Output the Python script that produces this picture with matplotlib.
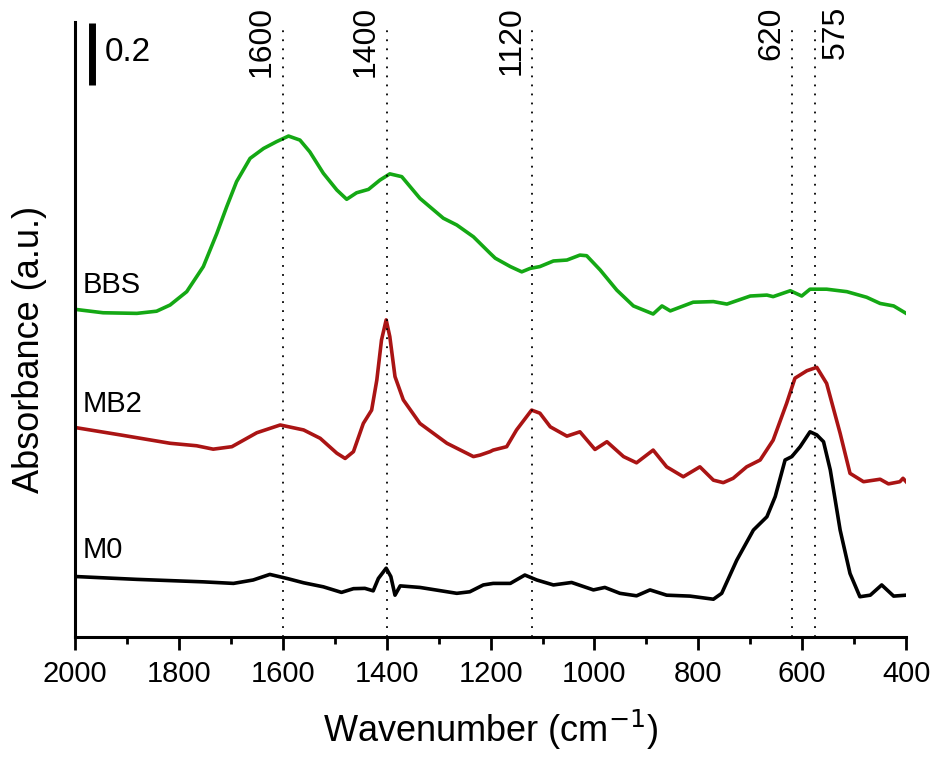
import matplotlib
matplotlib.use("Agg")
import matplotlib.pyplot as plt
from matplotlib.ticker import MultipleLocator

plt.rcParams['font.family'] = ['Liberation Sans', 'DejaVu Sans']

# BBS spectrum (green)
bbs_wn = [2000, 1946, 1881, 1843, 1817, 1785, 1753, 1727, 1708, 1689, 1663, 1637,
          1612, 1589, 1567, 1548, 1522, 1496, 1477, 1458, 1435, 1413, 1394, 1371,
          1336, 1291, 1265, 1233, 1201, 1191, 1162, 1140, 1124, 1105, 1079, 1053,
          1028, 1015, 989, 957, 925, 887, 870, 854, 810, 771, 745, 700, 668, 656,
          623, 601, 585, 553, 514, 476, 450, 424, 400]
bbs_abs = [1.057, 1.046, 1.044, 1.051, 1.071, 1.114, 1.195, 1.302, 1.388, 1.469,
           1.544, 1.576, 1.598, 1.616, 1.603, 1.565, 1.496, 1.442, 1.412, 1.433,
           1.444, 1.474, 1.494, 1.485, 1.415, 1.351, 1.329, 1.291, 1.238, 1.222,
           1.195, 1.178, 1.189, 1.195, 1.213, 1.216, 1.232, 1.230, 1.184, 1.119,
           1.068, 1.042, 1.068, 1.052, 1.080, 1.082, 1.074, 1.100, 1.103, 1.098,
           1.117, 1.100, 1.122, 1.122, 1.114, 1.096, 1.076, 1.068, 1.044]

# MB2 spectrum (red)
mb2_wn = [1997, 1913, 1817, 1766, 1734, 1698, 1650, 1605, 1560, 1528, 1496, 1480,
          1464, 1445, 1429, 1419, 1410, 1401, 1394, 1384, 1368, 1336, 1284, 1233,
          1220, 1201, 1195, 1169, 1150, 1121, 1105, 1085, 1053, 1028, 999, 976,
          944, 919, 887, 861, 829, 797, 771, 752, 733, 707, 681, 656, 630, 614,
          591, 572, 553, 527, 508, 482, 450, 434, 412, 406, 400]
mb2_abs = [0.675, 0.652, 0.625, 0.617, 0.606, 0.614, 0.659, 0.684, 0.668, 0.641,
           0.593, 0.576, 0.598, 0.689, 0.732, 0.829, 0.958, 1.023, 0.969, 0.840,
           0.765, 0.689, 0.625, 0.582, 0.587, 0.598, 0.603, 0.614, 0.668, 0.732,
           0.722, 0.678, 0.648, 0.662, 0.605, 0.630, 0.582, 0.562, 0.603, 0.549,
           0.517, 0.549, 0.506, 0.498, 0.512, 0.549, 0.571, 0.635, 0.754, 0.835,
           0.859, 0.870, 0.818, 0.657, 0.528, 0.501, 0.509, 0.494, 0.501, 0.512,
           0.501]

# M0 spectrum (black)
m0_wn = [1997, 1881, 1753, 1695, 1657, 1625, 1592, 1560, 1522, 1487, 1464, 1442,
         1426, 1416, 1401, 1392, 1384, 1374, 1336, 1265, 1240, 1214, 1195, 1162,
         1134, 1111, 1079, 1044, 1002, 980, 951, 919, 893, 861, 816, 771, 755,
         726, 694, 668, 652, 633, 620, 604, 585, 572, 559, 546, 527, 508, 489,
         469, 447, 424, 400]
m0_abs = [0.195, 0.186, 0.178, 0.173, 0.184, 0.202, 0.189, 0.175, 0.162, 0.144,
          0.156, 0.157, 0.149, 0.189, 0.222, 0.195, 0.135, 0.165, 0.160, 0.141,
          0.146, 0.168, 0.173, 0.173, 0.200, 0.184, 0.168, 0.176, 0.152, 0.160,
          0.141, 0.133, 0.152, 0.135, 0.132, 0.122, 0.141, 0.248, 0.345, 0.388,
          0.453, 0.571, 0.582, 0.614, 0.662, 0.652, 0.630, 0.539, 0.345, 0.205,
          0.130, 0.135, 0.168, 0.132, 0.135]

names = ["BBS", "MB2", "M0"]
name_y = [1.110, 0.727, 0.254]
colors = ["#14a814", "#aa1414", "black"]

peaks = [1600, 1400, 1120, 620, 575]
peak_side = [-1, -1, -1, -1, 1]


def main():
    fig = plt.figure(figsize=(9.38, 7.6), dpi=100)
    ax = fig.add_axes([0.080, 0.1618, 0.886, 0.8093])

    spectra = [(bbs_wn, bbs_abs), (mb2_wn, mb2_abs), (m0_wn, m0_abs)]
    for (wn, ab), c in zip(spectra, colors):
        ax.plot(wn, ab, color=c, lw=2.6, solid_joinstyle='round')

    for n, y in zip(names, name_y):
        ax.text(1985, y, n, fontsize=21, va='baseline', ha='left')

    ax.vlines(peaks, 0, 1.968, colors='black', lw=1.3, linestyles=(0, (1, 4)))
    for p, s in zip(peaks, peak_side):
        ax.annotate(str(p), xy=(p, 2.035), xytext=(15 * s, 0),
                    textcoords='offset points', rotation=90,
                    ha='center', va='top', fontsize=23, annotation_clip=False)

    # scale bar
    ax.plot([1968, 1968], [1.78, 1.98], color='black', lw=5, solid_capstyle='butt')
    ax.text(1942, 1.859, "0.2", fontsize=24, va='baseline', ha='left')

    ax.set_xlim(2000, 400)
    ax.set_ylim(0, 1.984)
    ax.xaxis.set_major_locator(MultipleLocator(200))
    ax.xaxis.set_minor_locator(MultipleLocator(100))
    ax.tick_params(axis='x', which='major', length=9.5, width=2, labelsize=21, pad=7)
    ax.tick_params(axis='x', which='minor', length=5, width=2)
    ax.set_yticks([])
    for s in ['top', 'right']:
        ax.spines[s].set_visible(False)
    for s in ['left', 'bottom']:
        ax.spines[s].set_linewidth(2.2)

    ax.set_xlabel("Wavenumber (cm$^{-1}$)", fontsize=26, labelpad=14)
    ax.set_ylabel("Absorbance (a.u.)", fontsize=26)
    ax.yaxis.set_label_coords(-0.034, 0.467)

    fig.savefig("out.png", dpi=100)


if __name__ == '__main__':
    main()
